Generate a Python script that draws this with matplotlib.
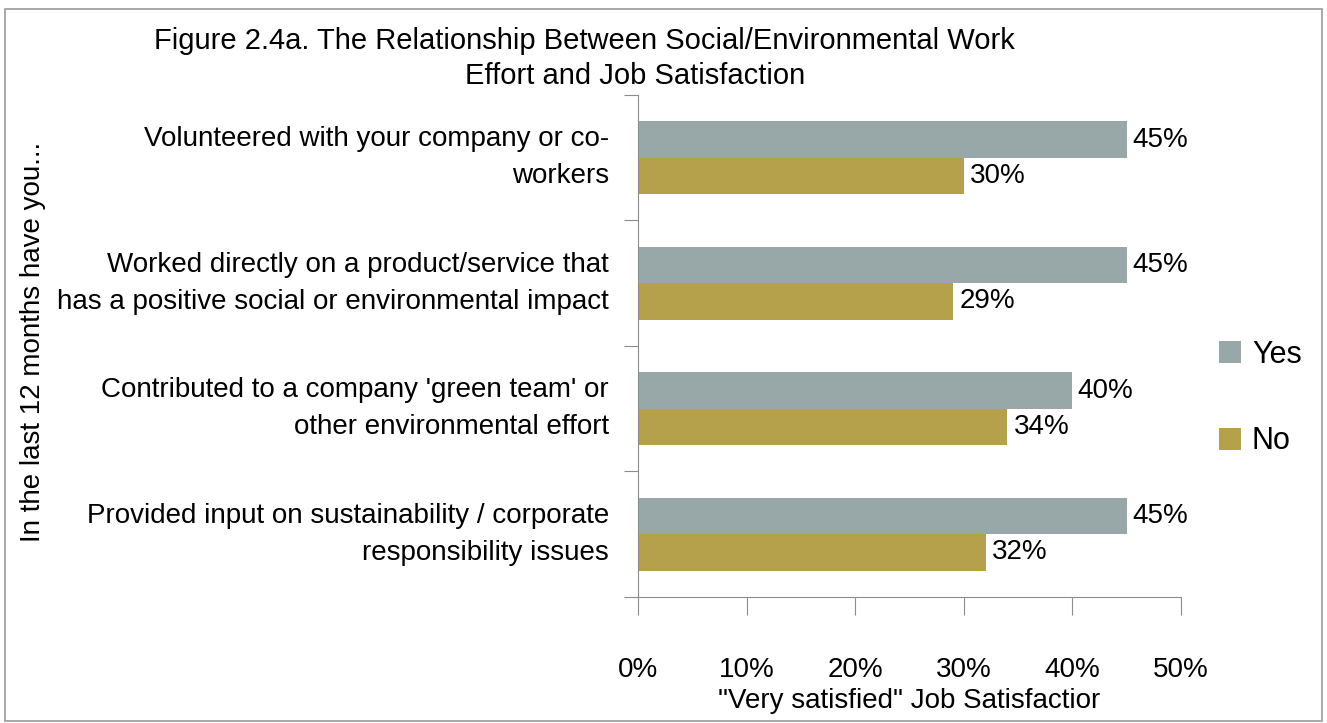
import numpy as np
import matplotlib.pyplot as plt
from matplotlib.patches import Rectangle

plt.rcParams['font.family'] = ['Liberation Sans', 'DejaVu Sans']

# data
categories = [
    "Volunteered with your company or co-\nworkers",
    "Worked directly on a product/service that\nhas a positive social or environmental impact",
    "Contributed to a company 'green team' or\nother environmental effort",
    "Provided input on sustainability / corporate\nresponsibility issues",
]
yes_vals = [45, 45, 40, 45]
no_vals = [30, 29, 34, 32]
xticks = [0, 10, 20, 30, 40, 50]

YES_COLOR = "#98a8a8"
NO_COLOR = "#b5a14c"
AXIS_COLOR = "#8c8c8c"
FS = 20

fig = plt.figure(figsize=(13.27, 7.23), dpi=100)
ax = fig.add_axes([0.4808, 0.1743, 0.4092, 0.6943])

y = np.arange(len(categories))
h = 0.29
ax.barh(y - h / 2, yes_vals, height=h, color=YES_COLOR, label="Yes")
ax.barh(y + h / 2, no_vals, height=h, color=NO_COLOR, label="No")

for yi, v in zip(y, yes_vals):
    ax.text(v + 0.5, yi - h / 2, f"{v}%", va="center", ha="left", fontsize=FS)
for yi, v in zip(y, no_vals):
    ax.text(v + 0.6, yi + h / 2, f"{v}%", va="center", ha="left", fontsize=FS)

ax.set_xlim(0, 50)
ax.set_ylim(len(categories) - 0.5, -0.5)
ax.set_xticks(xticks)
ax.set_xticklabels([f"{t}%" for t in xticks], fontsize=FS)
ax.set_yticks(np.arange(-0.5, len(categories), 1.0))
ax.set_yticklabels([])
ax.set_yticks(y, minor=True)
ax.set_yticklabels(categories, minor=True, fontsize=FS, ha="right", va="center",
                   linespacing=1.55)
ax.tick_params(axis="y", which="minor", length=0, pad=21)
ax.tick_params(axis="y", which="major", length=10, color=AXIS_COLOR, direction="out")
ax.tick_params(axis="x", length=13, color=AXIS_COLOR, direction="out", pad=30)

for side in ["top", "right"]:
    ax.spines[side].set_visible(False)
for side in ["left", "bottom"]:
    ax.spines[side].set_color(AXIS_COLOR)

ax.set_xlabel("\"Very satisfied\" Job Satisfactior", fontsize=FS, labelpad=4)
fig.text(0.025, 0.527, "In the last 12 months have you...", rotation=90,
         fontsize=FS, ha="center", va="center")

fig.text(0.440, 0.943, "Figure 2.4a. The Relationship Between Social/Environmental Work",
         ha="center", va="center", fontsize=21)
fig.text(0.4785, 0.8945, "Effort and Job Satisfaction",
         ha="center", va="center", fontsize=21)

fig.legend(handles=ax.get_legend_handles_labels()[0], labels=["Yes", "No"],
           loc="center left", bbox_to_anchor=(0.9186, 0.4495), frameon=False,
           fontsize=22, handlelength=0.73, handleheight=0.73, labelspacing=1.85,
           handletextpad=0.35, borderpad=0, borderaxespad=0)

fig.patches.append(Rectangle((0.004, 0.003), 0.992, 0.985, transform=fig.transFigure,
                             fill=False, edgecolor="#9a9a9a", linewidth=1.2))

fig.savefig("out.png", dpi=100)
